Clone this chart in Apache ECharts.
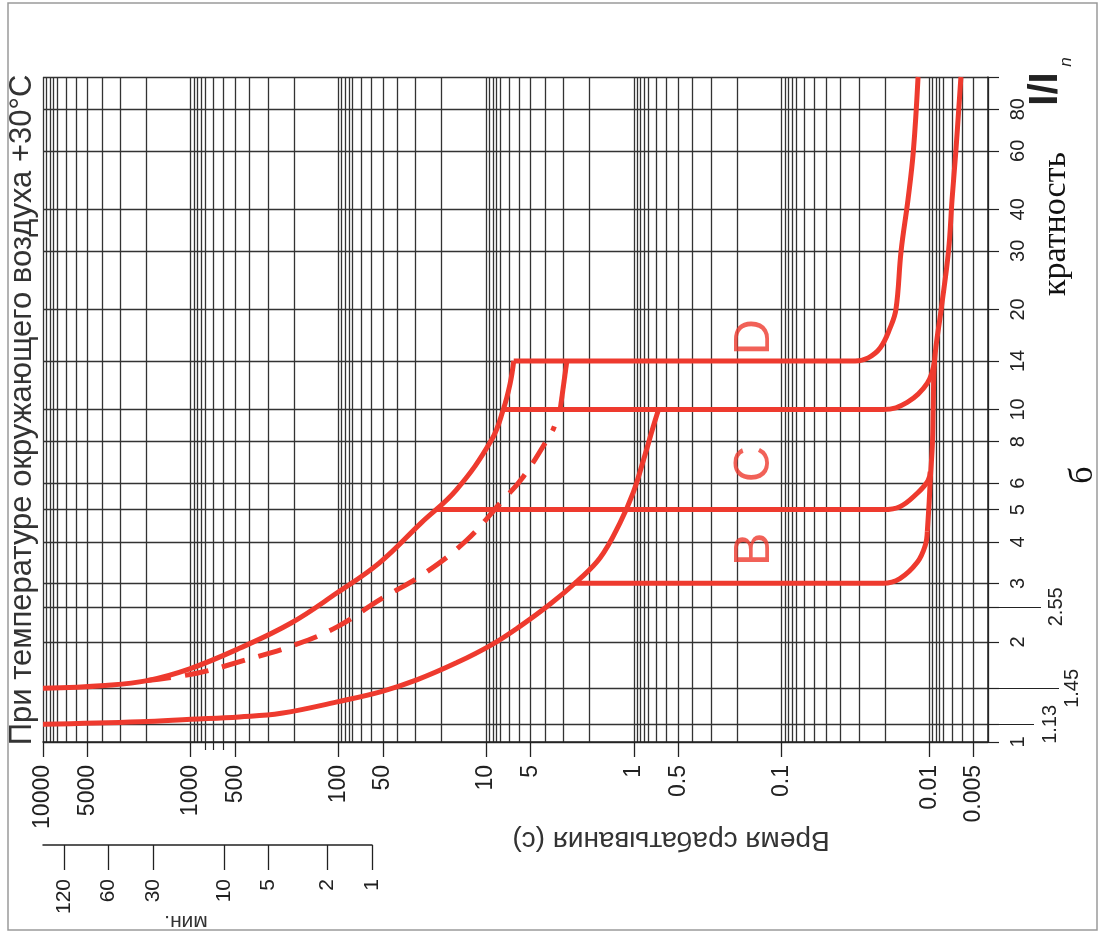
<!DOCTYPE html>
<html>
<head>
<meta charset="utf-8">
<script src="https://cdn.jsdelivr.net/npm/echarts@6/dist/echarts.min.js"></script>
<style>
html,body{margin:0;padding:0;background:#fff}
#viz{width:1101px;height:940px}
</style>
</head>
<body>
<div id="viz"></div>
<script>
// time axis, seconds (drawn right-to-left)
var timeLabels = [10000, 5000, 1000, 500, 100, 50, 10, 5, 1, 0.5, 0.1, 0.01, 0.005];
var timeShortTicks = [800, 700, 600];
var decadeTops = [10000, 1000, 100, 10, 1, 0.1, 0.01];
var decadeSteps = [1, 0.95, 0.9, 0.85, 0.8, 0.7, 0.6, 0.5, 0.4, 0.3, 0.2];
var minuteLabels = [120, 60, 30, 10, 5, 2, 1];

// current multiple I/In
var ratioGrid = [1, 1.13, 1.45, 2, 2.55, 3, 4, 5, 6, 8, 10, 14, 20, 30, 40, 60, 80, 100];
var ratioLabels = [1, 2, 3, 4, 5, 6, 8, 10, 14, 20, 30, 40, 60, 80];
var ratioExtraA = [1.13];
var ratioExtraB = [2.55];
var ratioExtraC = [1.45];

// curves: [time s, I/In]
var lowerThermal = [[10000,1.13],[2200,1.15],[1000,1.17],[469,1.19],[244,1.22],[102,1.32],[50.5,1.42],[29.2,1.54],[15.9,1.73],[9.2,1.96],[5.97,2.22],[3.68,2.6],[2.41,3.05],[1.69,3.58],[1.24,4.56],[1.01,5.62],[0.86,7.05],[0.74,8.86],[0.68,10]];
var upperThermal = [[10000,1.45],[3793,1.48],[1970,1.53],[1016,1.66],[472,1.91],[209,2.28],[102,2.81],[53,3.45],[27.5,4.56],[15.9,5.73],[9.2,8.09],[7.65,10],[6.87,12],[6.5,14]];
var dashedThermal = [[1970,1.53],[911,1.61],[424,1.765],[197,1.96],[102,2.22],[53,2.67],[26,3.22],[13.5,4.05],[8.03,5.23],[5.6,6.28],[3.58,8.58],[3.45,8.9]];
var dashedTail = [[3.15,10],[2.84,14]];
var tripB = [[2.53,3],[0.0205,3],[0.0158,3.1],[0.01205,3.47],[0.01064,3.9],[0.0103,4.3]];
var tripC = [[22,5],[0.0205,5],[0.0158,5.1],[0.01205,5.6],[0.0102,6.1],[0.00985,6.5]];
var tripC2 = [[7.65,10],[0.0205,10],[0.0141,10.5],[0.0103,12],[0.0092,14]];
var tripD = [[6.5,14],[0.0317,14],[0.0259,14.3],[0.0215,15.3],[0.0184,17.6],[0.0168,20],[0.0155,30],[0.0139,43],[0.0128,60],[0.0119,100]];
var magnetic = [[0.0103,4.3],[0.0100,5.3],[0.00985,6.1],[0.0095,8],[0.0094,10],[0.0092,14],[0.0083,20],[0.0074,30],[0.0070,43],[0.0066,60],[0.0061,100]];
var curveLetters = [[0.15,3.8,'B'],[0.15,6.85,'C'],[0.15,16.5,'D']];

var RED = '#ee3a2e';
var INK = '#222';
var SANS = '"Liberation Sans", Arial, sans-serif';
var SERIF = '"Liberation Serif", "DejaVu Serif", serif';

var timeGrid = [];
decadeTops.forEach(function(d){
    decadeSteps.forEach(function(s){
        var v = +(d * s).toPrecision(4);
        if (v >= 0.004) timeGrid.push(v);
    });
});

function fmt(v){ return String(+(+v).toPrecision(6)); }

function timeAxis(extra){
    var a = {type: 'log', logBase: 10, inverse: true, min: 0.004, max: 10000,
             gridIndex: 0, position: 'bottom',
             axisLine: {show: false}, axisTick: {show: false},
             axisLabel: {show: false}, splitLine: {show: false}};
    return Object.assign(a, extra);
}
function ratioAxis(extra){
    var a = {type: 'log', logBase: 10, min: 1, max: 100,
             gridIndex: 0, position: 'right',
             axisLine: {show: false}, axisTick: {show: false},
             axisLabel: {show: false}, splitLine: {show: false}};
    return Object.assign(a, extra);
}
function sideTicks(vals, len, margin){
    return ratioAxis({
        axisTick: {show: true, customValues: vals, length: len, lineStyle: {color: INK, width: 1.2}},
        axisLabel: {show: true, customValues: vals, rotate: 90, margin: margin,
                    fontSize: 20, color: INK, fontFamily: SANS, formatter: fmt}
    });
}
function curve(data, extra){
    var s = {type: 'line', data: data, xAxisIndex: 0, yAxisIndex: 0,
             symbol: 'none', smooth: 0.4, silent: true, z: 5,
             lineStyle: {color: RED, width: 5}};
    return Object.assign(s, extra || {});
}

var myChart = echarts.init(document.getElementById('viz'));
var option = {
    animation: false,
    backgroundColor: '#fff',
    grid: [
        {left: 43, right: 113, top: 77, bottom: 198},
        {left: 43, width: 329, top: 830, height: 15}
    ],
    xAxis: [
        timeAxis({
            axisLine: {show: true, lineStyle: {color: INK, width: 1.5}},
            axisTick: {show: false, customValues: timeGrid},
            splitLine: {show: true, lineStyle: {color: '#333', width: 1.3}}
        }),
        timeAxis({
            axisTick: {show: true, customValues: timeLabels, length: 15, lineStyle: {color: INK, width: 1.3}},
            axisLabel: {show: true, customValues: timeLabels, rotate: 90, margin: 23,
                        fontSize: 23, color: INK, fontFamily: SANS, formatter: fmt}
        }),
        timeAxis({
            axisTick: {show: true, customValues: timeShortTicks, length: 8, lineStyle: {color: INK, width: 1.2}}
        }),
        {
            type: 'log', logBase: 10, inverse: true, min: 1, max: 10000 / 60,
            gridIndex: 1, position: 'bottom',
            axisLine: {show: true, lineStyle: {color: INK, width: 1.5}},
            axisTick: {show: true, customValues: minuteLabels, length: 25, lineStyle: {color: INK, width: 1.3}},
            axisLabel: {show: true, customValues: minuteLabels, rotate: 90, margin: 34,
                        fontSize: 21, color: INK, fontFamily: SANS, formatter: fmt},
            splitLine: {show: false}
        }
    ],
    yAxis: [
        ratioAxis({
            axisLine: {show: true, lineStyle: {color: INK, width: 1.5}},
            axisTick: {show: true, customValues: ratioGrid, length: 11, lineStyle: {color: INK, width: 1.2}},
            axisLabel: {show: true, customValues: ratioLabels, rotate: 90, margin: 20,
                        fontSize: 20, color: INK, fontFamily: SANS, formatter: fmt},
            splitLine: {show: true, lineStyle: {color: '#333', width: 1.3}}
        }),
        sideTicks(ratioExtraA, 46, 52),
        sideTicks(ratioExtraB, 53, 58),
        sideTicks(ratioExtraC, 71, 74),
        {type: 'value', gridIndex: 1, show: false}
    ],
    series: [
        curve(lowerThermal),
        curve(upperThermal),
        curve(dashedThermal, {lineStyle: {color: RED, width: 5, type: [24, 14]}}),
        curve(dashedTail, {smooth: false}),
        curve(tripB),
        curve(tripC),
        curve(tripC2),
        curve(tripD),
        curve(magnetic),
        {
            type: 'scatter', data: curveLetters, xAxisIndex: 0, yAxisIndex: 0,
            symbolSize: 0.01, itemStyle: {color: 'transparent'}, silent: true, z: 6,
            label: {show: true, position: 'inside', rotate: 90, fontSize: 50,
                    color: RED, fontFamily: SANS,
                    formatter: function(p){ return p.data[2]; }}
        }
    ],
    graphic: [
        {type: 'rect', silent: true, z: -1,
         shape: {x: 8, y: 3, width: 1089, height: 927},
         style: {fill: 'none', stroke: '#9a9a9a', lineWidth: 1.5}},
        {type: 'text', x: 22, y: 410, rotation: Math.PI / 2,
         style: {text: 'При температуре окружающего воздуха +30°C', font: '31px ' + SANS,
                 fill: '#333', align: 'center', verticalAlign: 'middle'}},
        {type: 'text', x: 671, y: 840, rotation: Math.PI,
         style: {text: 'Время срабатывания (с)', font: '28px ' + SANS,
                 fill: '#333', align: 'center', verticalAlign: 'middle'}},
        {type: 'text', x: 186, y: 922, rotation: Math.PI,
         style: {text: 'мин.', font: '21px ' + SANS,
                 fill: '#333', align: 'center', verticalAlign: 'middle'}},
        {type: 'text', x: 1056, y: 224, rotation: Math.PI / 2,
         style: {text: 'кратность', font: '34px ' + SERIF,
                 fill: '#111', align: 'center', verticalAlign: 'middle'}},
        {type: 'text', x: 1083, y: 475, rotation: Math.PI / 2,
         style: {text: 'б', font: '34px ' + SERIF,
                 fill: '#111', align: 'center', verticalAlign: 'middle'}},
        {type: 'text', x: 1046, y: 89, rotation: Math.PI / 2,
         style: {text: 'I/I', font: 'bold 40px ' + SANS,
                 fill: '#222', align: 'center', verticalAlign: 'middle'}},
        {type: 'text', x: 1066, y: 62, rotation: Math.PI / 2,
         style: {text: 'n', font: 'italic 17px ' + SANS,
                 fill: '#222', align: 'center', verticalAlign: 'middle'}}
    ]
};
myChart.setOption(option);
</script>
</body>
</html>
